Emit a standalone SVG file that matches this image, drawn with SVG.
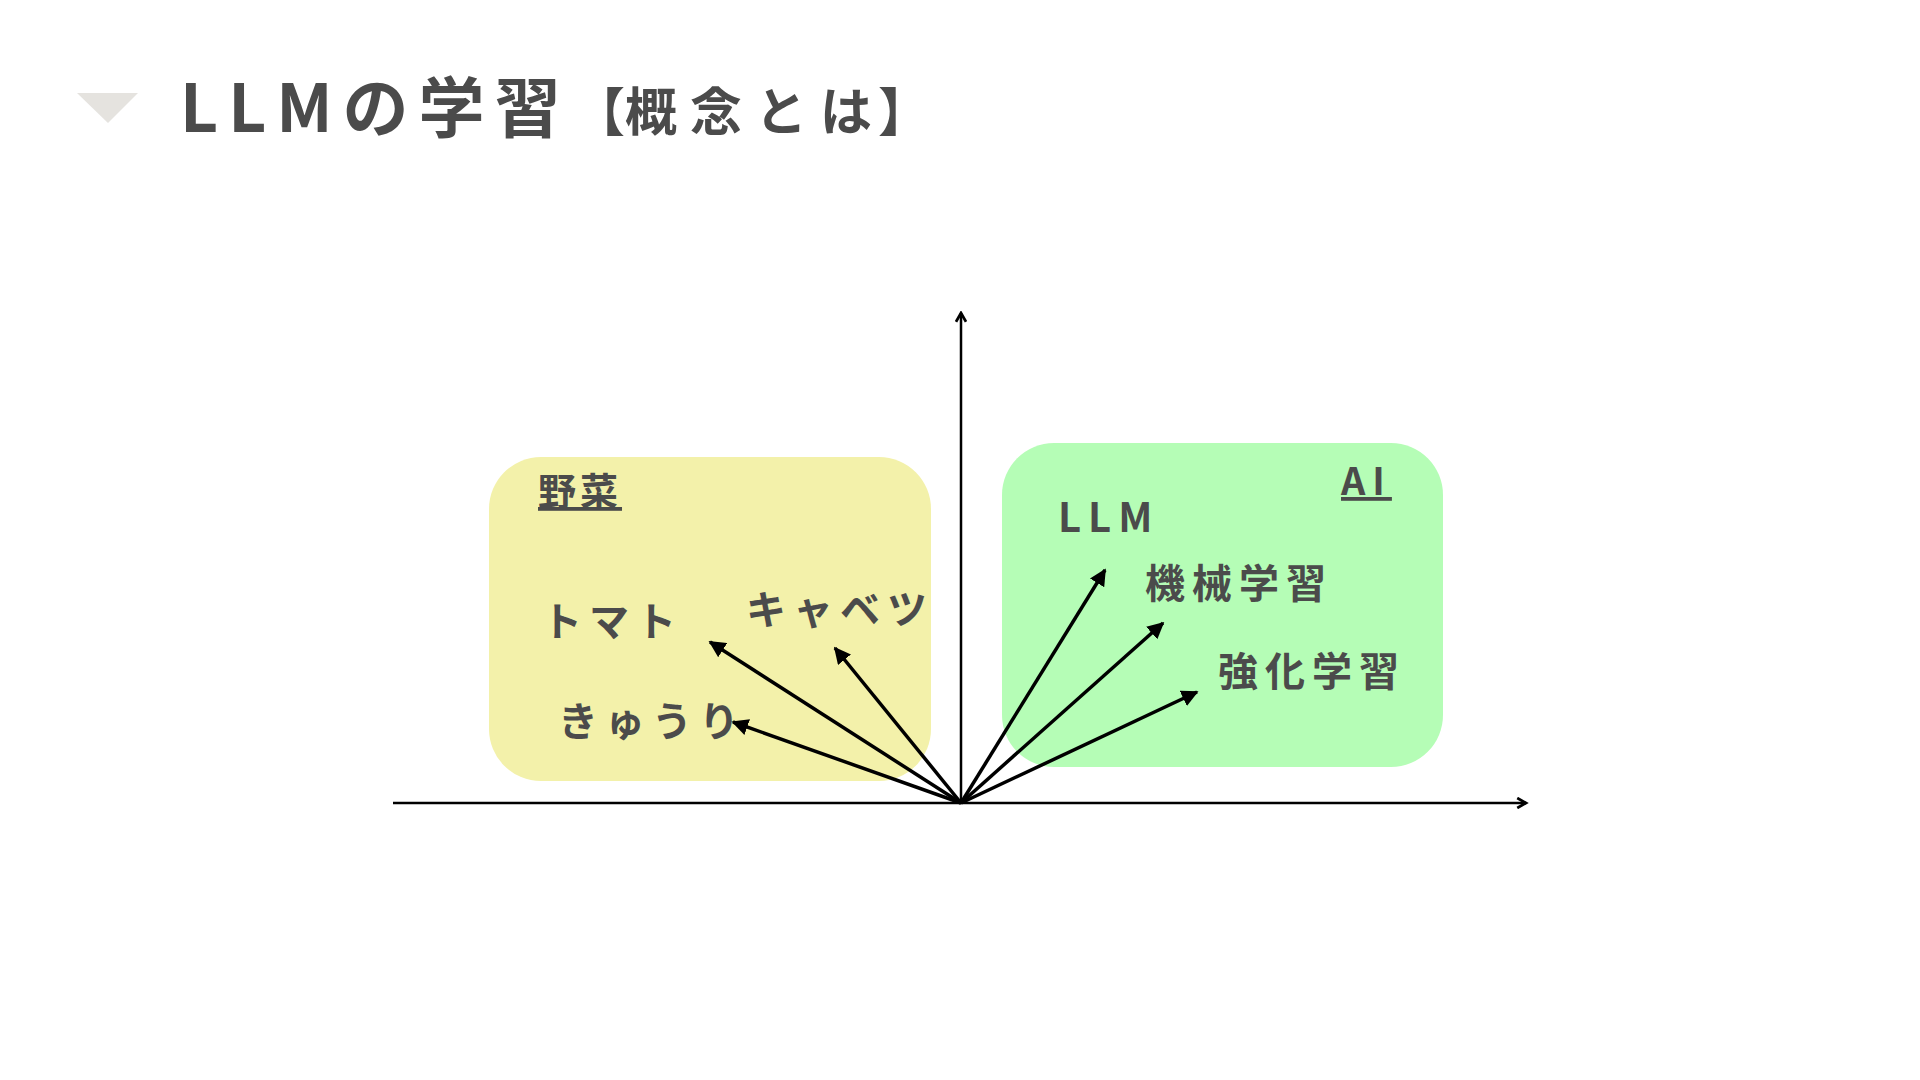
<svg xmlns="http://www.w3.org/2000/svg" width="1920" height="1080" viewBox="0 0 1920 1080">
<defs>
<style>
.t{font-family:"Noto Sans CJK JP","Noto Sans",sans-serif;font-weight:700;fill:#4b4b4b}
.lbl{font-size:40px;letter-spacing:7px}
.head{font-size:38px;text-decoration:underline}
.axis{stroke:#000;stroke-width:2.5;fill:none}
.vec{stroke:#000;stroke-width:3.5;fill:none}
</style>
<marker id="open" viewBox="0 0 10 10" refX="8" refY="5" markerWidth="5" markerHeight="5" orient="auto" markerUnits="strokeWidth">
<path d="M1,1 L8,5 L1,9" fill="none" stroke="#000" stroke-width="2.2"/>
</marker>
<marker id="solid" viewBox="0 0 10 10" refX="9" refY="5" markerWidth="4.8" markerHeight="4.8" orient="auto" markerUnits="strokeWidth">
<path d="M0,0 L10,5 L0,10 Z" fill="#000"/>
</marker>
</defs>
<rect width="1920" height="1080" fill="#fff"/>
<g id="title">
<polygon points="77,93 138,93 108,123" fill="#e5e3df"/>
<text class="t" x="180" y="132" font-size="66" letter-spacing="10">LLMの学習</text>
<text class="t" x="573" y="131" font-size="52" dx="0 0 13 13 13 6">【概念とは】</text>
</g>
<g id="vegetables">
<rect x="489" y="457" width="442" height="324" rx="52" fill="#f3f1aa"/>
<text class="t head" x="538" y="505" letter-spacing="4">野菜</text>
<text class="t lbl" x="542" y="636">トマト</text>
<text class="t lbl" x="746" y="624" letter-spacing="6">キャベツ</text>
<text class="t lbl" x="558" y="736">きゅうり</text>
</g>
<g id="ai">
<rect x="1002" y="443" width="441" height="324" rx="52" fill="#b5fdb6"/>
<text class="t head" x="1341" y="495" letter-spacing="7">AI</text>
<text class="t lbl" x="1058" y="532" letter-spacing="6">LLM</text>
<text class="t lbl" x="1145" y="598" letter-spacing="4">機械学習</text>
<text class="t lbl" x="1218" y="686" letter-spacing="3">強化学習</text>
</g>
<g id="connectors">
<line class="axis" x1="393" y1="803" x2="1526" y2="803" marker-end="url(#open)"/>
<line class="axis" x1="961" y1="803" x2="961" y2="313" marker-end="url(#open)"/>
<line class="vec" x1="961" y1="803" x2="733" y2="722" marker-end="url(#solid)"/>
<line class="vec" x1="961" y1="803" x2="710" y2="642" marker-end="url(#solid)"/>
<line class="vec" x1="961" y1="803" x2="835" y2="648" marker-end="url(#solid)"/>
<line class="vec" x1="961" y1="803" x2="1105" y2="570" marker-end="url(#solid)"/>
<line class="vec" x1="961" y1="803" x2="1163" y2="623" marker-end="url(#solid)"/>
<line class="vec" x1="961" y1="803" x2="1197" y2="692" marker-end="url(#solid)"/>
</g>
</svg>
